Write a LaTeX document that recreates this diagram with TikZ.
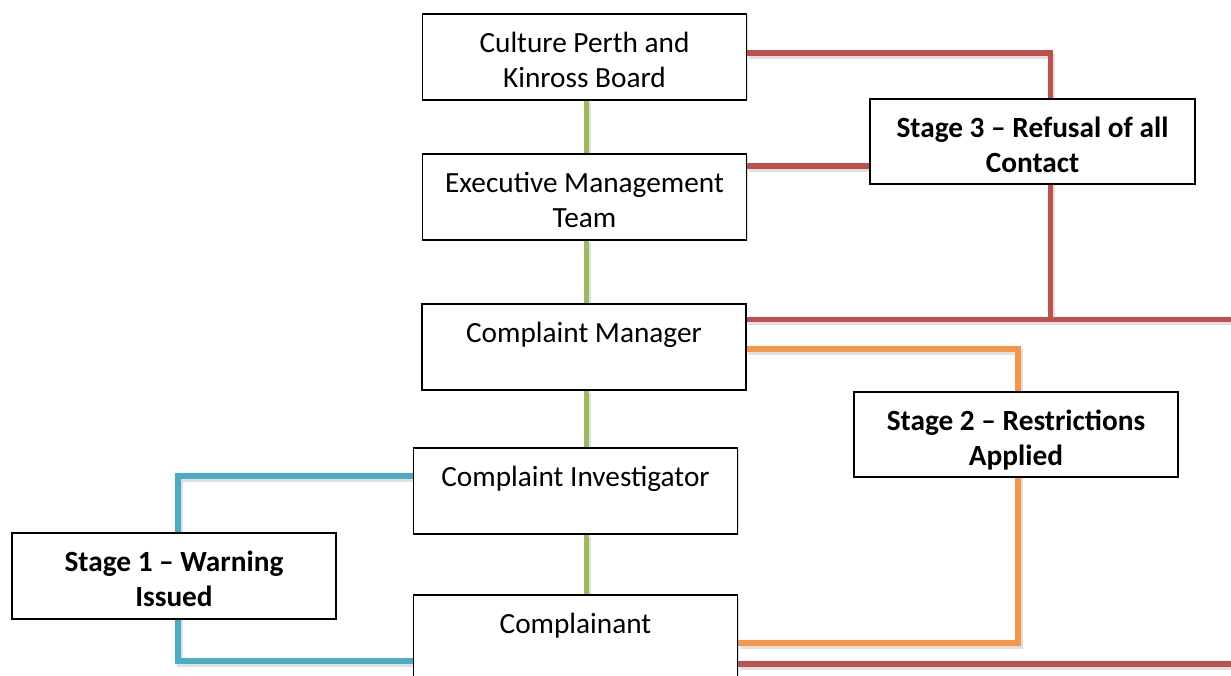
\documentclass[tikz,border=0pt]{standalone}
\usepackage{fontspec}
\setmainfont{Carlito}
\usetikzlibrary{shadows}
\pgfdeclarelayer{paper}
\pgfdeclarelayer{bg}
\pgfsetlayers{paper,bg,main}
\definecolor{lnred}{HTML}{C0504D}
\definecolor{lnorange}{HTML}{F79646}
\definecolor{lnblue}{HTML}{4BACC6}
\definecolor{lngreen}{HTML}{9BBB59}
\begin{document}
\begin{tikzpicture}[x=1pt,y=-1pt,
  box/.style={draw=black, line width=1.3pt, fill=white, rectangle,
    minimum width=324pt, minimum height=86pt, inner sep=0pt,
    drop shadow={shadow xshift=1.2pt, shadow yshift=-1.2pt, opacity=.25}},
  txt/.style={inner sep=0pt, align=center, anchor=north,
    font=\fontsize{29.3}{35}\selectfont},
  conn/.style={line width=5.5pt, line join=miter,
    preaction={draw=black!40, opacity=.3, line width=6pt,
      transform canvas={shift={(1.5pt,-2.8pt)}}}}
]
\clip (0,0) rectangle (1231,675);
\begin{pgfonlayer}{paper}
  \fill[white] (0,0) rectangle (1231,675);
\end{pgfonlayer}

% hierarchy boxes
\node[box] (cpk)  at (584.5,57)  {};
\node[box] (emt)  at (584.5,197) {};
\node[box] (cm)   at (584,347)   {};
\node[box] (inv)  at (575.5,491) {};
\node[box] (comp) at (575.5,638) {};

% stage boxes
\node[box, minimum width=325pt, minimum height=85pt] (s3) at (1032.5,141.5) {};
\node[box, minimum width=324pt, minimum height=85pt] (s2) at (1016,434.5) {};
\node[box] (s1) at (174,576) {};

% box texts, first baseline 39pt below the top edge
\node[txt] (cpkT)  at ([yshift=-14.5pt]cpk.north)  {\strut Culture Perth and\\Kinross Board};
\node[txt] (emtT)  at ([yshift=-14.5pt]emt.north)  {\strut Executive Management\\Team};
\node[txt] (cmT)   at ([yshift=-14.5pt]cm.north)   {\strut Complaint Manager};
\node[txt] (invT)  at ([yshift=-14.5pt]inv.north)  {\strut Complaint Investigator};
\node[txt] (compT) at ([yshift=-14.5pt]comp.north) {\strut Complainant};
\node[txt, font=\fontsize{29.3}{35}\selectfont\bfseries] (s3T) at ([yshift=-14.5pt]s3.north) {\strut Stage 3 – Refusal of all\\Contact};
\node[txt, font=\fontsize{29.3}{35}\selectfont\bfseries] (s2T) at ([yshift=-14.5pt]s2.north) {\strut Stage 2 – Restrictions\\Applied};
\node[txt, font=\fontsize{29.3}{35}\selectfont\bfseries] (s1T) at ([yshift=-14.5pt]s1.north) {\strut Stage 1 – Warning\\Issued};

% routing points
\coordinate (spine) at (586.5,0);
\coordinate (redV)  at (1050.5,319.5);
\coordinate (redE1) at (1231,319.5);
\coordinate (redE2) at (1231,664);
\coordinate (orV)   at (1018,500);
\coordinate (blV)   at (178,560);

\begin{pgfonlayer}{bg}
  % reporting line
  \draw[conn, draw=lngreen] (cpk.south -| spine) -- (emt.north -| spine);
  \draw[conn, draw=lngreen] (emt.south -| spine) -- (cm.north -| spine);
  \draw[conn, draw=lngreen] (cm.south -| spine) -- (inv.north -| spine);
  \draw[conn, draw=lngreen] (inv.south -| spine) -- (comp.north -| spine);
  % stage 3
  \draw[conn, draw=lnred] (cpk.east |- 0,53) -| (redV);
  \draw[conn, draw=lnred] (emt.east |- 0,166) -- (s3.west |- 0,166);
  \draw[conn, draw=lnred] (cm.east |- redE1) -- (redE1);
  \draw[conn, draw=lnred] (comp.east |- redE2) -- (redE2);
  % stage 2
  \draw[conn, draw=lnorange] (cm.east |- 0,349) -| (orV) |- (comp.east |- 0,643);
  % stage 1
  \draw[conn, draw=lnblue] (inv.west |- 0,476) -| (blV) |- (comp.west |- 0,661);
\end{pgfonlayer}
\end{tikzpicture}
\end{document}
